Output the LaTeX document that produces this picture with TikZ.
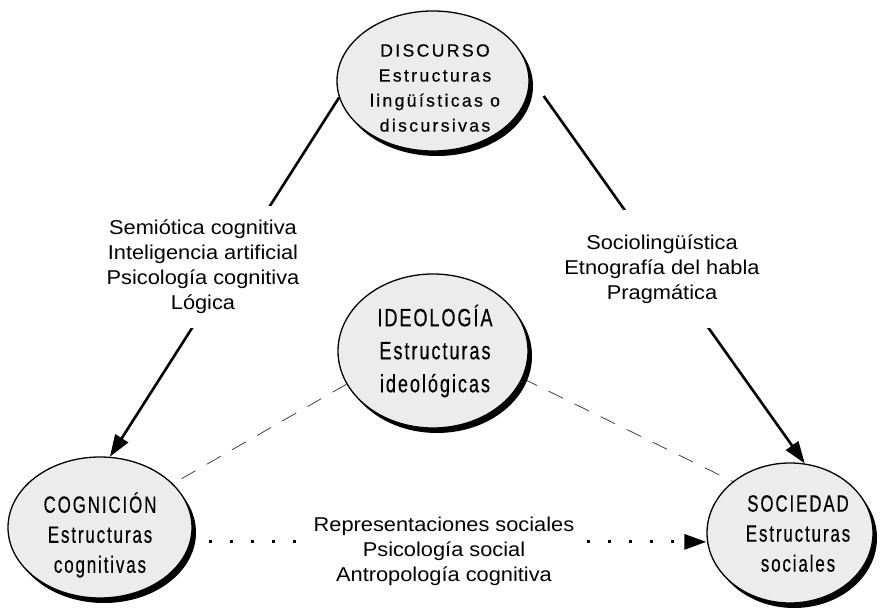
\documentclass[tikz,border=0pt]{standalone}
\usepackage{fontspec}
\setmainfont{Liberation Sans}
\newfontfamily\lblfont[FakeStretch=1.09]{Liberation Sans}
\newfontfamily\discfont[LetterSpace=13,FakeBold=0.3]{Liberation Sans}
\newfontfamily\condfont[FakeStretch=0.72,LetterSpace=8,FakeBold=0.4]{Liberation Sans}
\usetikzlibrary{shapes.geometric,arrows.meta,shadows,backgrounds}

\begin{document}
\begin{tikzpicture}[x=1pt,y=-1pt,
			bubble/.style={ellipse,draw=black,line width=1.3pt,fill=gray!15,inner sep=0pt,
				drop shadow={shadow xshift=4pt,shadow yshift=-5pt,fill=black,opacity=1}},
			bubtext/.style={align=center,inner sep=0pt,font=\condfont\fontsize{23.5}{30}\selectfont},
			lbl/.style={align=center,fill=white,inner xsep=4pt,font=\lblfont\fontsize{20}{25}\selectfont},
			link/.style={line width=2.6pt,-{Triangle[length=22pt,width=15pt]}},
			dots/.style={line width=3pt,dash pattern=on 3pt off 18pt,dash phase=3pt,-{Triangle[length=22pt,width=15pt]}},
			dash line/.style={line width=0.8pt,black!75,dash pattern=on 16pt off 13pt}]
			\useasboundingbox (0,0) rectangle (883,609);
			\node[bubble,minimum width=192pt,minimum height=140pt] (disc) at (433,81) {};
			\node[bubtext,font=\discfont\fontsize{17.7}{25}\selectfont] (disc-txt) at (435,88) {DISCURSO\\Estructuras\\lingüísticas o\\discursivas};
			\node[bubble,minimum width=190pt,minimum height=154pt] (ideo) at (433,351) {};
			\node[bubtext,font=\condfont\fontsize{25}{33}\selectfont] (ideo-txt) at (435,351) {IDEOLOGÍA\\Estructuras\\ideológicas};
			\node[bubble,minimum width=184pt,minimum height=141pt] (cog) at (100,527.5) {};
			\node[bubtext] (cog-txt) at (100,535) {COGNICIÓN\\Estructuras\\cognitivas};
			\node[bubble,minimum width=166pt,minimum height=140pt] (soc) at (790,533) {};
			\node[bubtext] (soc-txt) at (798,533.5) {SOCIEDAD\\Estructuras\\sociales};
			\begin{scope}[on background layer]
				\draw[link] (disc.190) -- (cog.82);
				\draw[link] ([shift={(14,15)}]disc.east) -- (soc.78);
				\draw[dash line] (ideo.201) -- (cog.31);
				\draw[dash line] (ideo.-17) -- (soc.138);
				\draw[dots] (cog.-9) -- (cog.-9 -| soc.west);
			\end{scope}
			\node[lbl,inner ysep=14pt] (cog-lbl) at (203,267) {Semiótica cognitiva\\Inteligencia artificial\\Psicología cognitiva\\Lógica};
			\node[lbl,inner ysep=25pt] (soc-lbl) at (662,269) {Sociolingüística\\Etnografía del habla\\Pragmática};
			\node[lbl,inner xsep=10pt,inner ysep=2pt] (rep-lbl) at (444,551) {Representaciones sociales\\Psicología social\\Antropología cognitiva};
\end{tikzpicture}
\end{document}
